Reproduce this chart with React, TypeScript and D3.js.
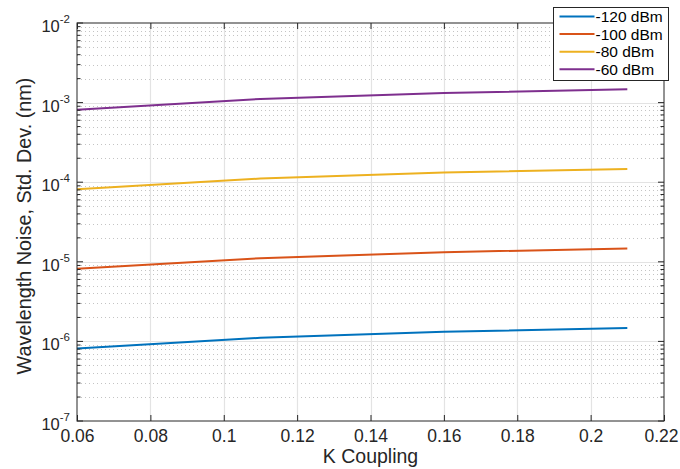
import { useEffect, useRef } from "react";
import * as d3 from "d3";

const W = 680;
const H = 469;
const margin = { top: 23, right: 16, bottom: 48, left: 77 };
const IW = W - margin.left - margin.right;
const IH = H - margin.top - margin.bottom;

const K: number[] = [0.06, 0.11, 0.16, 0.21];
const NOISE_120: number[] = [8.15e-7, 1.11e-6, 1.32e-6, 1.47e-6];
const NOISE_100: number[] = [8.15e-6, 1.11e-5, 1.32e-5, 1.47e-5];
const NOISE_80: number[] = [8.15e-5, 1.11e-4, 1.32e-4, 1.47e-4];
const NOISE_60: number[] = [8.15e-4, 1.11e-3, 1.32e-3, 1.47e-3];
const LABELS: string[] = ["-120 dBm", "-100 dBm", "-80 dBm", "-60 dBm"];
const COLORS: string[] = ["#0072BD", "#D95319", "#EDB120", "#7E2F8E"];
const XTICKS: number[] = [0.06, 0.08, 0.1, 0.12, 0.14, 0.16, 0.18, 0.2, 0.22];
const YEXP: number[] = [-7, -6, -5, -4, -3, -2];

const FONT = "'Liberation Sans', Arial, Helvetica, sans-serif";

const App = () => {
  const svgRef = useRef<SVGSVGElement | null>(null);

  useEffect(() => {
    if (!svgRef.current) return;
    const svg = d3.select(svgRef.current);
    svg.selectAll("*").remove();

    const x = d3.scaleLinear().domain([0.06, 0.22]).range([0, IW]);
    const y = d3.scaleLog().domain([1e-7, 1e-2]).range([IH, 0]);

    const g = svg
      .append("g")
      .attr("transform", `translate(${margin.left}, ${margin.top})`);

    // minor grid (dotted)
    const minors: number[] = [];
    YEXP.slice(0, -1).forEach((e) => {
      for (let m = 2; m <= 9; m++) minors.push(m * Math.pow(10, e));
    });
    g.append("g")
      .selectAll("line")
      .data(minors)
      .join("line")
      .attr("x1", 0)
      .attr("x2", IW)
      .attr("y1", (d) => Math.round(y(d)) + 0.5)
      .attr("y2", (d) => Math.round(y(d)) + 0.5)
      .attr("stroke", "#c4c4c4")
      .attr("stroke-width", 1)
      .attr("stroke-dasharray", "1,3");

    // major grid
    g.append("g")
      .selectAll("line")
      .data(XTICKS.slice(1, -1))
      .join("line")
      .attr("x1", (d) => Math.round(x(d)) + 0.5)
      .attr("x2", (d) => Math.round(x(d)) + 0.5)
      .attr("y1", 0)
      .attr("y2", IH)
      .attr("stroke", "#e3e3e3")
      .attr("stroke-width", 1.2);
    g.append("g")
      .selectAll("line")
      .data(YEXP.slice(1, -1))
      .join("line")
      .attr("x1", 0)
      .attr("x2", IW)
      .attr("y1", (d) => Math.round(y(Math.pow(10, d))) + 0.5)
      .attr("y2", (d) => Math.round(y(Math.pow(10, d))) + 0.5)
      .attr("stroke", "#e3e3e3")
      .attr("stroke-width", 1.2);

    // lines
    const series = [NOISE_120, NOISE_100, NOISE_80, NOISE_60];
    const line = d3
      .line<number>()
      .x((_, i) => x(K[i]))
      .y((d) => y(d));
    series.forEach((s, i) => {
      g.append("path")
        .datum(s)
        .attr("fill", "none")
        .attr("stroke", COLORS[i])
        .attr("stroke-width", 2)
        .attr("stroke-linejoin", "round")
        .attr("d", line);
    });

    // axes box
    const axisColor = "#262626";
    g.append("rect")
      .attr("x", 0)
      .attr("y", 0)
      .attr("width", IW)
      .attr("height", IH)
      .attr("fill", "none")
      .attr("stroke", axisColor)
      .attr("stroke-width", 1);

    const xAxis = g
      .append("g")
      .attr("transform", `translate(0, ${IH})`)
      .call(
        d3
          .axisBottom(x)
          .tickValues(XTICKS)
          .tickSize(-6)
          .tickPadding(9)
          .tickFormat((d) => d3.format("~g")(d as number))
      );
    xAxis.select(".domain").remove();
    xAxis.selectAll("line").attr("stroke", axisColor);
    xAxis
      .selectAll("text")
      .attr("font-family", FONT)
      .attr("font-size", 17.5)
      .attr("fill", "#262626")
      .attr("dx", (_, i) => (i === XTICKS.length - 1 ? -3 : 0));

    const xTop = g.append("g").call(
      d3.axisTop(x).tickValues(XTICKS).tickSize(-6).tickFormat(() => "")
    );
    xTop.select(".domain").remove();
    xTop.selectAll("line").attr("stroke", axisColor);

    // y ticks both sides
    [0, IW].forEach((xp) => {
      const dir = xp === 0 ? 1 : -1;
      g.append("g")
        .selectAll("line")
        .data(YEXP)
        .join("line")
        .attr("x1", xp)
        .attr("x2", xp + dir * 6)
        .attr("y1", (d) => y(Math.pow(10, d)))
        .attr("y2", (d) => y(Math.pow(10, d)))
        .attr("stroke", axisColor);
      g.append("g")
        .selectAll("line")
        .data(minors)
        .join("line")
        .attr("x1", xp)
        .attr("x2", xp + dir * 3.5)
        .attr("y1", (d) => y(d))
        .attr("y2", (d) => y(d))
        .attr("stroke", axisColor);
    });

    // y tick labels
    const yl = g
      .append("g")
      .selectAll("text")
      .data(YEXP)
      .join("text")
      .attr("x", -7)
      .attr("y", (d) => y(Math.pow(10, d)) + 9)
      .attr("text-anchor", "end")
      .attr("font-family", FONT)
      .attr("font-size", 16.5)
      .attr("fill", "#262626");
    yl.append("tspan").text("10");
    yl.append("tspan")
      .attr("font-size", 11.5)
      .attr("dy", -9)
      .text((d) => String(d));

    // axis labels
    svg
      .append("text")
      .attr("x", margin.left + IW / 2)
      .attr("y", 463)
      .attr("text-anchor", "middle")
      .attr("font-family", FONT)
      .attr("font-size", 19.5)
      .attr("fill", "#262626")
      .text("K Coupling");
    svg
      .append("text")
      .attr("transform", `translate(31, ${margin.top + IH / 2 + 4}) rotate(-90)`)
      .attr("text-anchor", "middle")
      .attr("font-family", FONT)
      .attr("font-size", 19.8)
      .attr("fill", "#262626")
      .text("Wavelength Noise, Std. Dev. (nm)");

    // legend
    const lg = svg.append("g").attr("transform", "translate(553.5, 7.5)");
    lg.append("rect")
      .attr("width", 115)
      .attr("height", 73)
      .attr("fill", "white")
      .attr("stroke", axisColor)
      .attr("stroke-width", 1);
    LABELS.forEach((lab, i) => {
      const cy = 9 + i * 17.6;
      lg.append("line")
        .attr("x1", 6)
        .attr("x2", 41)
        .attr("y1", cy)
        .attr("y2", cy)
        .attr("stroke", COLORS[i])
        .attr("stroke-width", 2);
      lg.append("text")
        .attr("x", 42)
        .attr("y", cy + 5.5)
        .attr("font-family", FONT)
        .attr("font-size", 15.5)
        .attr("fill", "#000")
        .text(lab);
    });
  }, []);

  return (
    <div style={{ position: "absolute", left: 0, top: 0 }}>
      <svg ref={svgRef} width={W} height={H} style={{ display: "block" }} />
    </div>
  );
};

export default App;
